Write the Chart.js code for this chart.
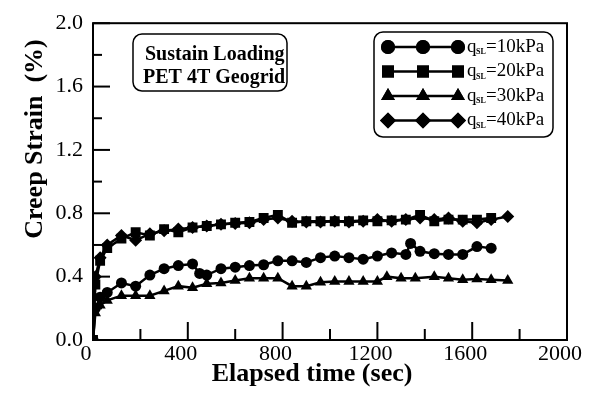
<!DOCTYPE html>
<html>
<head>
<meta charset="utf-8">
<script src="https://cdn.jsdelivr.net/npm/chart.js"></script>
<style>
  html, body { margin: 0; padding: 0; background: #fff; }
  canvas { display: block; }
</style>
</head>
<body>
<canvas id="creepChart" width="602" height="407"></canvas>
<script>
// elapsed time (sec) and creep strain (%) for each sustained load
const time10 = [0, 10, 30, 60, 120, 180, 240, 300, 360, 420, 450, 480, 540, 600, 660, 720, 780, 840, 900, 960, 1020, 1080, 1140, 1200, 1260, 1320, 1340, 1380, 1440, 1500, 1560, 1620, 1680];
const strain10 = [0.0, 0.20, 0.27, 0.30, 0.36, 0.34, 0.41, 0.45, 0.47, 0.48, 0.42, 0.41, 0.45, 0.46, 0.47, 0.475, 0.50, 0.50, 0.49, 0.52, 0.53, 0.52, 0.51, 0.53, 0.55, 0.54, 0.61, 0.56, 0.545, 0.54, 0.54, 0.59, 0.58];

const time20 = [0, 10, 30, 60, 120, 180, 240, 300, 360, 420, 480, 540, 600, 660, 720, 780, 840, 900, 960, 1020, 1080, 1140, 1200, 1260, 1320, 1380, 1440, 1500, 1560, 1620, 1680];
const strain20 = [0.0, 0.35, 0.50, 0.58, 0.64, 0.68, 0.66, 0.70, 0.68, 0.71, 0.72, 0.73, 0.74, 0.745, 0.77, 0.79, 0.74, 0.75, 0.75, 0.75, 0.75, 0.755, 0.75, 0.755, 0.76, 0.79, 0.75, 0.76, 0.76, 0.76, 0.77];

const time30 = [0, 10, 30, 60, 120, 180, 240, 300, 360, 420, 480, 540, 600, 660, 720, 780, 840, 900, 960, 1020, 1080, 1140, 1200, 1240, 1300, 1360, 1440, 1500, 1560, 1620, 1680, 1750];
const strain30 = [0.0, 0.17, 0.22, 0.25, 0.28, 0.28, 0.28, 0.31, 0.34, 0.33, 0.355, 0.36, 0.375, 0.39, 0.39, 0.39, 0.34, 0.34, 0.365, 0.37, 0.37, 0.37, 0.37, 0.40, 0.39, 0.39, 0.40, 0.39, 0.38, 0.385, 0.38, 0.375];

const time40 = [0, 10, 30, 60, 120, 180, 240, 300, 360, 420, 480, 540, 600, 660, 720, 780, 840, 900, 960, 1020, 1080, 1140, 1200, 1260, 1320, 1380, 1440, 1500, 1560, 1620, 1680, 1750];
const strain40 = [0.0, 0.40, 0.52, 0.60, 0.66, 0.63, 0.67, 0.69, 0.70, 0.71, 0.72, 0.73, 0.735, 0.74, 0.76, 0.77, 0.75, 0.745, 0.745, 0.75, 0.745, 0.75, 0.76, 0.75, 0.76, 0.77, 0.76, 0.77, 0.75, 0.74, 0.76, 0.78];

const loadLabels = ['10kPa', '20kPa', '30kPa', '40kPa'];
const xTicks = [0, 400, 800, 1200, 1600, 2000];
const yTicks = [0.0, 0.4, 0.8, 1.2, 1.6, 2.0];
const noteLines = ['Sustain Loading', 'PET 4T Geogrid'];

const SERIF = '"Liberation Serif", "Times New Roman", serif';

function toPoints(xs, ys) {
    return xs.map((x, i) => ({ x: x, y: ys[i] }));
}

function makeSeries(label, xs, ys, style, radius) {
    return {
        label: label,
        data: toPoints(xs, ys),
        showLine: true,
        borderColor: '#000',
        backgroundColor: '#000',
        borderWidth: 2.5,
        pointStyle: style,
        pointRadius: radius,
        pointBorderWidth: 0,
        tension: 0
    };
}

// frame, inward ticks, axis titles, note box and legend box
const decorations = {
    id: 'decorations',
    afterDraw(chart) {
        const ctx = chart.ctx;
        const area = chart.chartArea;
        const xs = chart.scales.x;
        const ys = chart.scales.y;
        ctx.save();
        ctx.strokeStyle = '#000';
        ctx.fillStyle = '#000';

        ctx.lineWidth = 2;
        ctx.strokeRect(area.left, area.top, area.right - area.left, area.bottom - area.top);

        for (let v = 0; v <= 2000; v += 200) {
            const px = xs.getPixelForValue(v);
            const len = v % 400 === 0 ? 18 : 11;
            ctx.beginPath();
            ctx.moveTo(px, area.bottom);
            ctx.lineTo(px, area.bottom - len);
            ctx.stroke();
        }
        for (let i = 0; i <= 10; i++) {
            const py = ys.getPixelForValue(i * 0.2);
            const len = i % 2 === 0 ? 17 : 9;
            ctx.beginPath();
            ctx.moveTo(area.left, py);
            ctx.lineTo(area.left + len, py);
            ctx.stroke();
        }

        // axis titles
        ctx.font = 'bold 26px ' + SERIF;
        ctx.textAlign = 'center';
        ctx.textBaseline = 'alphabetic';
        ctx.fillText('Elapsed time (sec)', 312, 381);
        ctx.save();
        ctx.translate(42, 139);
        ctx.rotate(-Math.PI / 2);
        ctx.fillText('Creep Strain  (%)', 0, 0);
        ctx.restore();

        // note box
        ctx.lineWidth = 1.5;
        ctx.beginPath();
        ctx.roundRect(133, 34, 154, 57, 9);
        ctx.stroke();
        ctx.font = 'bold 20px ' + SERIF;
        ctx.textAlign = 'left';
        ctx.fillText(noteLines[0], 145, 60);
        ctx.fillText(noteLines[1], 143, 83);

        // legend box
        ctx.beginPath();
        ctx.roundRect(374, 32, 179, 105, 9);
        ctx.stroke();
        chart.data.datasets.forEach((ds, i) => {
            const rowY = 47 + i * 24.5;
            ctx.lineWidth = 2.5;
            ctx.beginPath();
            ctx.moveTo(388, rowY);
            ctx.lineTo(458, rowY);
            ctx.stroke();
            [388, 423, 458].forEach(mx => {
                Chart.helpers.drawPoint(ctx, {
                    pointStyle: ds.pointStyle,
                    radius: ds.pointRadius + 1.5,
                    rotation: 0,
                    borderWidth: 0
                }, mx, rowY);
                ctx.fill();
            });
            ctx.textBaseline = 'middle';
            ctx.font = '19px ' + SERIF;
            ctx.fillText('q', 467, rowY);
            ctx.font = 'bold 8px ' + SERIF;
            ctx.fillText('SL', 476, rowY + 5);
            ctx.font = '19px ' + SERIF;
            ctx.fillText('=' + loadLabels[i], 486, rowY);
        });
        ctx.restore();
    }
};

document.addEventListener('DOMContentLoaded', () => {
    const ctx = document.getElementById('creepChart').getContext('2d');
    new Chart(ctx, {
        type: 'scatter',
        data: {
            datasets: [
                makeSeries('q=10kPa', time10, strain10, 'circle', 5.5),
                makeSeries('q=20kPa', time20, strain20, 'rect', 7),
                makeSeries('q=30kPa', time30, strain30, 'triangle', 6.5),
                makeSeries('q=40kPa', time40, strain40, 'rectRot', 6.5)
            ]
        },
        options: {
            responsive: false,
            animation: false,
            layout: { padding: { top: 20, right: 35, left: 0, bottom: 0 } },
            plugins: {
                legend: { display: false },
                title: { display: false },
                tooltip: { enabled: false }
            },
            scales: {
                x: {
                    type: 'linear',
                    min: 0,
                    max: 2000,
                    afterBuildTicks: scale => { scale.ticks = xTicks.map(v => ({ value: v })); },
                    afterFit: scale => { scale.height = 67; },
                    grid: { display: false, drawTicks: false },
                    border: { display: false },
                    ticks: {
                        color: '#000',
                        font: { family: SERIF, size: 22 },
                        padding: 1,
                        labelOffset: -7,
                        maxRotation: 0,
                        callback: v => String(v)
                    }
                },
                y: {
                    min: 0,
                    max: 2.0,
                    afterBuildTicks: scale => { scale.ticks = yTicks.map(v => ({ value: v })); },
                    afterFit: scale => { scale.width = 93; },
                    grid: { display: false, drawTicks: false },
                    border: { display: false },
                    ticks: {
                        color: '#000',
                        font: { family: SERIF, size: 22 },
                        padding: 10,
                        callback: v => v.toFixed(1)
                    }
                }
            }
        },
        plugins: [decorations]
    });
});
</script>
</body>
</html>
